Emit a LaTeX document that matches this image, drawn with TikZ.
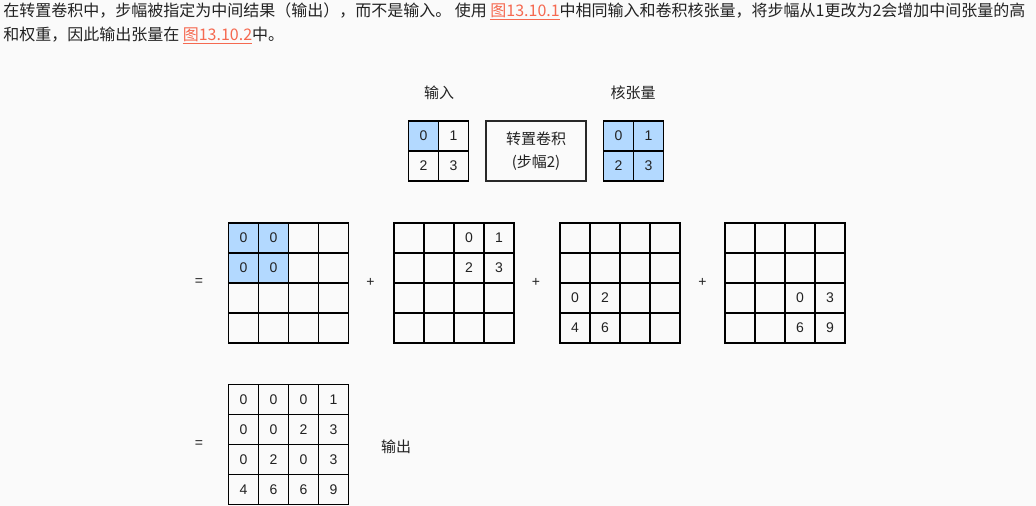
\documentclass[tikz,border=0pt]{standalone}
\usepackage{fontspec}
\setmainfont{Liberation Sans}
\newfontfamily\cjk{Noto Sans CJK SC}
\usetikzlibrary{matrix}
\definecolor{fond}{RGB}{250,250,250}
\definecolor{bleu}{RGB}{179,217,255}
\definecolor{lien}{RGB}{245,105,80}
\definecolor{texte}{RGB}{34,34,34}
\definecolor{trait}{RGB}{40,40,40}
\newcommand{\Lien}[1]{\textcolor{lien}{\underline{#1}}}
\tikzset{
  cellule/.style={draw, line width=1.4pt, minimum size=22.5pt, inner sep=0pt, outer sep=0pt, anchor=center, text=texte, font=\fontsize{10.5}{12}\selectfont},
  bleue/.style={fill=bleu},
  grille/.style={matrix of nodes, nodes in empty cells, anchor=north west, inner sep=0pt, outer sep=0pt, column sep=-1.4pt, row sep=-1.4pt, nodes={cellule}},
  boite/.style={draw=trait, line width=0.9pt, minimum width=75pt, minimum height=45pt, align=center, text=texte, font=\cjk\fontsize{11.25}{17}\selectfont},
  signe/.style={text=texte, font=\fontsize{10.5}{12}\selectfont},
  etiquette/.style={text=texte, font=\cjk\fontsize{11.25}{14}\selectfont},
  para/.style={anchor=base west, inner sep=0pt, text=texte, font=\cjk\fontsize{12}{14}\selectfont}
}

\begin{document}
\begin{tikzpicture}[x=0.75pt,y=-0.75pt]
  \useasboundingbox[fill=fond] (0,0) rectangle (1036,506);
  % texte
  \node[para] (ligne1) at (3,16.5) {在转置卷积中，步幅被指定为中间结果（输出），而不是输入。 使用 \Lien{图13.10.1}中相同输入和卷积核张量，将步幅从1更改为2会增加中间张量的高};
  \node[para] (ligne2) at (3,40.5) {和权重，因此输出张量在 \Lien{图13.10.2}中。};
  % entree et noyau
  \node[etiquette] (lblEntree) at (439,93) {输入};
  \node[etiquette] (lblNoyau) at (633,93) {核张量};
  \matrix (entree) [grille] at (407.5,120) {|[bleue]| 0 & 1 \\ 2 & 3 \\};
  \node[boite] (conv) at (536,151) {转置卷积\\(步幅2)};
  \matrix (noyau) [grille] at (602.5,120) {|[bleue]| 0 & |[bleue]| 1 \\ |[bleue]| 2 & |[bleue]| 3 \\};
  % resultats intermediaires
  \node[signe] (egal1) at (199,282) {=};
  \matrix (inter1) [grille] at (227.5,222) {
    |[bleue]| 0 & |[bleue]| 0 & & \\
    |[bleue]| 0 & |[bleue]| 0 & & \\
    & & & \\
    & & & \\};
  \node[signe] (plus1) at (370.5,282) {+};
  \matrix (inter2) [grille] at (393,222) {
    & & 0 & 1 \\
    & & 2 & 3 \\
    & & & \\
    & & & \\};
  \node[signe] (plus2) at (536,282) {+};
  \matrix (inter3) [grille] at (559,222) {
    & & & \\
    & & & \\
    0 & 2 & & \\
    4 & 6 & & \\};
  \node[signe] (plus3) at (702.5,282) {+};
  \matrix (inter4) [grille] at (724,222) {
    & & & \\
    & & & \\
    & & 0 & 3 \\
    & & 6 & 9 \\};
  % sortie
  \node[signe] (egal2) at (199,444) {=};
  \matrix (sortie) [grille] at (227.5,383.5) {
    0 & 0 & 0 & 1 \\
    0 & 0 & 2 & 3 \\
    0 & 2 & 0 & 3 \\
    4 & 6 & 6 & 9 \\};
  \node[etiquette] (lblSortie) at (396,447) {输出};
\end{tikzpicture}
\end{document}
